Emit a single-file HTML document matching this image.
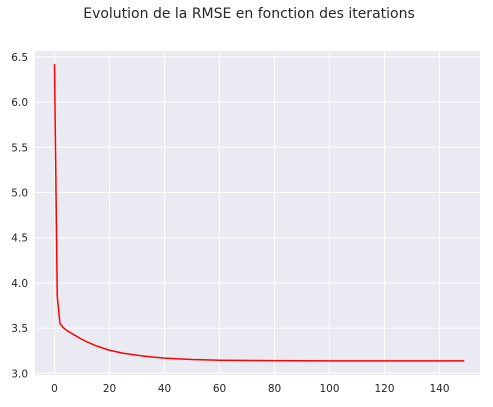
<!DOCTYPE html>
<html><head><meta charset="utf-8"><style>
body{margin:0;background:#fff;width:493px;height:403px;overflow:hidden;font-family:"DejaVu Sans","Liberation Sans",sans-serif}
</style></head><body>
<svg id="chart" width="493" height="403" xmlns="http://www.w3.org/2000/svg" font-family="DejaVu Sans, Liberation Sans, sans-serif">
<text x="249" y="18" text-anchor="middle" font-size="14" fill="#262626">Evolution de la RMSE en fonction des iterations</text>
<rect x="35" y="51" width="445" height="324" fill="#eaeaf2"/>
<g id="grid"></g><g id="ticks"></g><g id="series"></g>
</svg>
<script>
const iterations=[0,1,2,3,4,5,6,8,10,12,15,20,25,30,35,40,50,60,80,100,120,149];
const rmse=[6.42,3.85,3.55,3.51,3.485,3.465,3.445,3.41,3.375,3.345,3.305,3.255,3.222,3.2,3.182,3.168,3.152,3.145,3.14,3.138,3.137,3.137];
const xTicks=[0,20,40,60,80,100,120,140];
const yTicks=[3.0,3.5,4.0,4.5,5.0,5.5,6.0,6.5];
const NS="http://www.w3.org/2000/svg";
function xs(v){return 54.5+v*2.75;}
function ys(v){return 373.3-(v-3.0)*90.4;}
const grid=document.getElementById('grid'),ticks=document.getElementById('ticks'),series=document.getElementById('series');
xTicks.forEach(t=>{
 const l=document.createElementNS(NS,'line');
 
 
 l.setAttribute('x1',xs(t));l.setAttribute('x2',xs(t));l.setAttribute('y1',51);l.setAttribute('y2',375);
 l.setAttribute('stroke','#fff');l.setAttribute('stroke-width','1');grid.appendChild(l);
 const tx=document.createElementNS(NS,'text');
 
 
 tx.setAttribute('x',xs(t));tx.setAttribute('y',392);tx.setAttribute('text-anchor','middle');
 tx.setAttribute('font-size','10.5');tx.setAttribute('fill','#262626');tx.textContent=t;ticks.appendChild(tx);
});
yTicks.forEach(t=>{
 const l=document.createElementNS(NS,'line');
 
 
 l.setAttribute('x1',35);l.setAttribute('x2',480);l.setAttribute('y1',ys(t));l.setAttribute('y2',ys(t));
 l.setAttribute('stroke','#fff');l.setAttribute('stroke-width','1');grid.appendChild(l);
 const tx=document.createElementNS(NS,'text');
 
 
 tx.setAttribute('x',28);tx.setAttribute('y',ys(t)+4);tx.setAttribute('text-anchor','end');
 tx.setAttribute('font-size','10.5');tx.setAttribute('fill','#262626');tx.textContent=t.toFixed(1);ticks.appendChild(tx);
});
const p=document.createElementNS(NS,'polyline');


p.setAttribute('points',iterations.map((x,i)=>xs(x)+','+ys(rmse[i])).join(' '));
p.setAttribute('fill','none');p.setAttribute('stroke','#ff0000');p.setAttribute('stroke-width','1.5');
series.appendChild(p);
</script>
</body></html>
